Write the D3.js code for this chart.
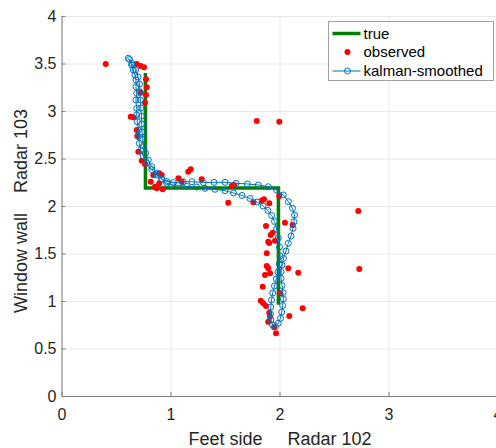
<!DOCTYPE html>
<html>
<head>
<meta charset="utf-8">
<script src="https://cdn.jsdelivr.net/npm/d3@7"></script>
<style>
  body { margin: 0; background: #fff; }
  svg { display: block; font-family: "Liberation Sans", Arial, Helvetica, sans-serif; }
</style>
</head>
<body>
<div id="chart"></div>
<script>
// true path corners
var trueX = [0.77, 0.77, 1.99, 1.99];
var trueY = [3.40, 2.19, 2.19, 0.96];

// noisy radar measurements
var obsX = [0.406, 0.690, 0.727, 0.757, 0.775, 0.782, 0.775, 0.766, 0.727, 0.635,
            0.659, 0.690, 0.695, 0.705, 0.736, 0.766, 0.842, 0.897, 0.919, 0.818,
            0.858, 0.873, 0.928, 0.897, 1.072, 1.103, 1.163, 1.185, 1.286, 1.561,
            1.583, 1.530, 1.760, 1.837, 1.858, 1.906, 1.998, 1.791, 1.998, 2.723,
            2.732, 2.050, 1.876, 1.919, 1.938, 1.897, 1.906, 1.959, 1.883, 1.883,
            1.897, 1.913, 1.867, 2.081, 2.172, 1.846, 2.005, 1.828, 1.851, 1.876,
            2.213, 2.090, 1.906, 1.913, 1.897, 1.968, 1.950, 2.121];
var obsY = [3.495, 3.495, 3.474, 3.460, 3.334, 3.249, 3.168, 3.087, 3.193, 2.940,
            2.934, 2.800, 2.737, 2.572, 2.477, 2.442, 2.326, 2.344, 2.326, 2.256,
            2.203, 2.186, 2.176, 2.239, 2.292, 2.256, 2.361, 2.386, 2.281, 2.211,
            2.221, 2.035, 2.039, 2.056, 2.071, 2.028, 2.105, 2.895, 2.887, 1.947,
            1.337, 1.824, 1.789, 1.695, 1.719, 1.624, 1.611, 1.635, 1.502, 1.368,
            1.344, 1.292, 1.274, 1.344, 1.298, 1.151, 1.081, 1.003, 0.976, 0.947,
            0.923, 0.842, 0.877, 0.835, 0.782, 0.660, 0.723, 1.800];

// smoothed track, out along one side and back along the other
var kalX = [0.613, 0.644, 0.659, 0.674, 0.683, 0.683, 0.690, 0.683, 0.690, 0.690,
            0.695, 0.705, 0.705, 0.714, 0.727, 0.750, 0.782, 0.828, 0.876, 0.922,
            0.968, 1.026, 1.117, 1.197, 1.301, 1.399, 1.500, 1.601, 1.705, 1.806,
            1.897, 1.974, 2.035, 2.081, 2.119, 2.138, 2.133, 2.124, 2.106, 2.081,
            2.060, 2.037, 2.023, 2.014, 2.014, 2.023, 2.032, 2.035, 2.029, 2.020,
            2.009, 1.989, 1.963, 1.936, 1.922, 1.917, 1.919, 1.927, 1.938, 1.954,
            1.971, 1.986, 1.998, 2.005, 2.000, 1.989, 1.974, 1.954, 1.928, 1.894,
            1.849, 1.794, 1.729, 1.656, 1.578, 1.500, 1.408, 1.317, 1.240, 1.149,
            1.072, 1.011, 0.965, 0.919, 0.873, 0.828, 0.796, 0.771, 0.752, 0.745,
            0.739, 0.736, 0.734, 0.728, 0.723, 0.720, 0.716, 0.702, 0.679, 0.647,
            0.624];
var kalY = [3.555, 3.484, 3.432, 3.379, 3.326, 3.256, 3.186, 3.116, 3.028, 2.958,
            2.887, 2.800, 2.729, 2.660, 2.589, 2.526, 2.453, 2.384, 2.326, 2.284,
            2.258, 2.247, 2.256, 2.256, 2.247, 2.249, 2.249, 2.239, 2.232, 2.221,
            2.203, 2.168, 2.116, 2.045, 1.976, 1.905, 1.835, 1.765, 1.684, 1.607,
            1.526, 1.449, 1.379, 1.308, 1.237, 1.163, 1.089, 1.021, 0.953, 0.884,
            0.818, 0.765, 0.732, 0.747, 0.800, 0.863, 0.937, 1.011, 1.084, 1.158,
            1.232, 1.305, 1.389, 1.474, 1.568, 1.663, 1.758, 1.837, 1.900, 1.953,
            2.000, 2.042, 2.079, 2.111, 2.137, 2.161, 2.176, 2.186, 2.200, 2.207,
            2.218, 2.221, 2.239, 2.281, 2.344, 2.414, 2.484, 2.558, 2.632, 2.705,
            2.779, 2.863, 2.947, 3.032, 3.116, 3.200, 3.284, 3.358, 3.432, 3.500,
            3.542];

var xTicks = [0, 1, 2, 3, 4];
var yTicks = [0, 0.5, 1, 1.5, 2, 2.5, 3, 3.5, 4];
var seriesNames = ["true", "observed", "kalman-smoothed"];

var svgWidth = 496, svgHeight = 448;
var margin = { top: 16, left: 61.5 };
var chartWidth = 436, chartHeight = 380;

var green = "#008000", red = "#ff0000", blue = "#0072bd";

var svg = d3.select("#chart").append("svg")
    .attr("width", svgWidth)
    .attr("height", svgHeight);

var g = svg.append("g")
    .attr("transform", `translate(${margin.left}, ${margin.top})`);

var xScale = d3.scaleLinear().domain([0, 4]).range([0, chartWidth]);
var yScale = d3.scaleLinear().domain([0, 4]).range([chartHeight, 0]);

// grid
g.append("g")
    .attr("class", "grid")
    .call(d3.axisLeft(yScale).tickValues(yTicks).tickSize(-chartWidth).tickFormat(""))
    .call(s => s.select(".domain").remove());
g.append("g")
    .attr("class", "grid")
    .attr("transform", `translate(0, ${chartHeight})`)
    .call(d3.axisBottom(xScale).tickValues(xTicks).tickSize(-chartHeight).tickFormat(""))
    .call(s => s.select(".domain").remove());
g.selectAll(".grid line").attr("stroke", "#e8e8e8");

// axes, ticks pointing in
var xAxis = g.append("g")
    .attr("transform", `translate(0, ${chartHeight})`)
    .call(d3.axisBottom(xScale).tickValues(xTicks).tickSizeInner(-4).tickSizeOuter(0)
        .tickPadding(13).tickFormat(d3.format("~g")));
var yAxis = g.append("g")
    .call(d3.axisLeft(yScale).tickValues(yTicks).tickSizeInner(-4).tickSizeOuter(0)
        .tickPadding(5).tickFormat(d3.format("~g")));

[xAxis, yAxis].forEach(a => {
    a.select(".domain").attr("stroke", "#808080");
    a.selectAll(".tick line").attr("stroke", "#808080");
    a.selectAll(".tick text")
        .attr("fill", "#262626")
        .style("font-size", "16px");
});

// axis labels
svg.append("text")
    .attr("x", 280)
    .attr("y", 445)
    .attr("text-anchor", "middle")
    .attr("fill", "#262626")
    .style("font-size", "18px")
    .style("white-space", "pre")
    .text("Feet side     Radar 102");

svg.append("text")
    .attr("transform", "translate(27, 211) rotate(-90)")
    .attr("text-anchor", "middle")
    .attr("fill", "#262626")
    .style("font-size", "18px")
    .style("white-space", "pre")
    .text("Window wall    Radar 103");

// true path
var trueData = trueX.map((x, i) => [x, trueY[i]]);
g.append("path")
    .datum(trueData)
    .attr("fill", "none")
    .attr("stroke", green)
    .attr("stroke-width", 3.5)
    .attr("d", d3.line().x(d => xScale(d[0])).y(d => yScale(d[1])));

// observed points
var obsData = obsX.map((x, i) => [x, obsY[i]]);
g.selectAll(".obs")
    .data(obsData)
    .enter()
    .append("circle")
    .attr("class", "obs")
    .attr("r", 3)
    .attr("cx", d => xScale(d[0]))
    .attr("cy", d => yScale(d[1]))
    .attr("fill", red);

// smoothed track
var kalData = kalX.map((x, i) => [x, kalY[i]]);
g.append("path")
    .datum(kalData)
    .attr("fill", "none")
    .attr("stroke", blue)
    .attr("stroke-width", 1)
    .attr("d", d3.line().x(d => xScale(d[0])).y(d => yScale(d[1])));
g.selectAll(".kal")
    .data(kalData)
    .enter()
    .append("circle")
    .attr("class", "kal")
    .attr("r", 3)
    .attr("cx", d => xScale(d[0]))
    .attr("cy", d => yScale(d[1]))
    .attr("fill", "none")
    .attr("stroke", blue)
    .attr("stroke-width", 1);

// legend
var legend = svg.append("g").attr("transform", "translate(328.5, 21.5)");
legend.append("rect")
    .attr("width", 165)
    .attr("height", 59)
    .attr("fill", "#fff")
    .attr("stroke", "#a0a0a0");

var rowY = [12, 30.5, 49.5];
legend.append("line")
    .attr("x1", 4).attr("x2", 32).attr("y1", rowY[0]).attr("y2", rowY[0])
    .attr("stroke", green).attr("stroke-width", 3.5);
legend.append("circle")
    .attr("cx", 19).attr("cy", rowY[1]).attr("r", 3).attr("fill", red);
legend.append("line")
    .attr("x1", 4).attr("x2", 32).attr("y1", rowY[2]).attr("y2", rowY[2])
    .attr("stroke", blue).attr("stroke-width", 1);
legend.append("circle")
    .attr("cx", 19).attr("cy", rowY[2]).attr("r", 3)
    .attr("fill", "none").attr("stroke", blue);

legend.selectAll(".lab")
    .data(seriesNames)
    .enter()
    .append("text")
    .attr("class", "lab")
    .attr("x", 35)
    .attr("y", (d, i) => rowY[i] + 5)
    .attr("fill", "#000")
    .style("font-size", "15px")
    .text(d => d);
</script>
</body>
</html>
